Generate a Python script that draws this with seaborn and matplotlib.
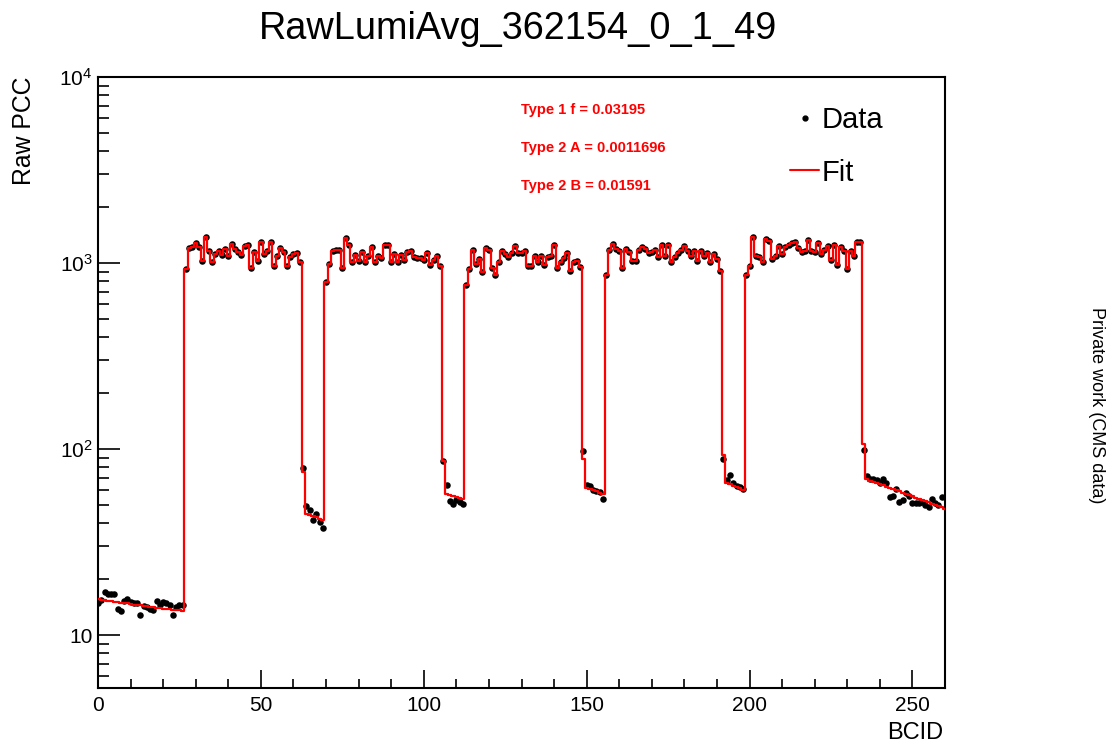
import numpy as np
import pandas as pd
import matplotlib
matplotlib.use("Agg")
import matplotlib.pyplot as plt
import seaborn as sns
from matplotlib.lines import Line2D
from matplotlib.ticker import FixedLocator, NullFormatter, MultipleLocator, FixedFormatter

# ---------------- data ----------------
# Raw PCC per BCID
baseline_data = [14.8, 15.5, 17.1, 16.6, 16.6, 16.6, 13.9, 13.5, 15.3, 15.6, 15.1, 14.9, 14.9,
                 12.8, 14.3, 14.2, 13.9, 13.7, 15.3, 14.6, 15.1, 14.8, 14.6, 12.8, 14.2, 14.5, 14.5]  # BCID 0-26
train1_data = [928, 1199, 1214, 1281, 1214, 1029, 1374, 1165, 1008, 1118, 1165, 1104, 1189, 1095,
               1265, 1189, 1141, 1104, 1239, 1250, 936, 1141, 1029, 1291, 1118, 1165, 1302, 968,
               1095, 1199, 1141, 968, 1073, 1118, 1130, 1017]  # BCID 27-62
gap1_data = [79.5, 49.5, 47.2, 41.7, 44.8, 40.7, 37.5]  # BCID 63-69
train2_data = [794, 988, 1165, 1180, 1180, 936, 1363, 1255, 1017, 1104, 1029, 1141, 1008, 1095,
               1214, 1017, 1095, 1059, 1255, 1255, 1017, 1118, 1008, 1104, 1042, 1141, 1165, 1081,
               1059, 1059, 1042, 1127, 975, 1042, 1095, 968]  # BCID 70-105
gap2_data = [86.0, 64.0, 52.7, 50.6, 53.3, 52.1, 50.6]  # BCID 106-112
train3_data = [761, 928, 1180, 988, 1051, 891, 1199, 1180, 936, 862, 1008, 1155, 1118, 1073,
               1132, 1229, 1132, 1132, 1165, 968, 968, 1086, 1008, 1086, 975, 1073, 1086, 1250,
               936, 1008, 1059, 1132, 909, 1017, 1029, 956]  # BCID 113-148
gap3_data = [97.5, 64.0, 63.0, 60.0, 59.7, 58.5, 53.8]  # BCID 149-155
train4_data = [862, 1180, 1265, 1189, 1165, 936, 1189, 1141, 1029, 1029, 1180, 1214, 1189, 1132,
               1141, 1180, 1073, 1250, 1086, 1250, 1017, 1073, 1132, 1180, 1229, 1165, 1086, 1165,
               1029, 1165, 1086, 1132, 1008, 1118, 1051, 909]  # BCID 156-191
gap4_data = [89.0, 68.0, 72.5, 65.7, 63.5, 62.5, 61.0]  # BCID 192-198
train5_data = [862, 968, 1374, 1086, 1073, 1008, 1346, 1318, 1051, 1095, 1229, 1118, 1214, 1250,
               1281, 1291, 1199, 1151, 1165, 1335, 1165, 1141, 1281, 1118, 1180, 1229, 1042, 1250,
               975, 1214, 1165, 928, 1165, 1095, 1291, 1291]  # BCID 199-234
tail_data = [98.8, 71.6, 69.5, 68.7, 68.1, 65.4, 68.7, 65.9, 55.0, 55.9, 60.7, 52.1, 53.2, 57.8,
             55.9, 51.1, 51.1, 51.6, 52.1, 50.0, 48.6, 53.8, 51.6, 50.0, 55.5]  # BCID 235-259

# Fit outside the trains (inside trains the fit follows the data)
baseline_fit = [15.6, 15.5, 15.4, 15.3, 15.2, 15.1, 15.0, 14.95, 14.9, 14.8, 14.7, 14.6, 14.5,
                14.45, 14.4, 14.3, 14.2, 14.1, 14.05, 14.0, 13.9, 13.85, 13.8, 13.7, 13.65, 13.6, 13.5]
gap1_fit = [75.5, 44.7, 44.1, 43.5, 42.9, 42.3, 41.7]
gap2_fit = [86.5, 57.6, 56.8, 56.0, 55.2, 54.4, 53.7]
gap3_fit = [89.0, 62.1, 61.1, 60.1, 59.2, 58.2, 57.3]
gap4_fit = [92.7, 65.7, 64.6, 63.6, 62.6, 61.6, 60.6]
tail_fit = [106.0, 68.7, 67.7, 66.7, 65.7, 64.7, 63.8, 62.8, 61.9, 61.0, 60.1, 59.2, 58.3, 57.4,
            56.6, 55.7, 54.9, 54.1, 53.3, 52.5, 51.7, 50.9, 50.1, 49.4, 48.6, 47.9]  # BCID 235-260

fit_labels = ["Type 1 f = 0.03195", "Type 2 A = 0.0011696", "Type 2 B = 0.01591"]
x_ticks = [0, 50, 100, 150, 200, 250]
y_ticks = [10, 100, 1000, 10000]
y_tick_labels = ["10", r"$10^{2}$", r"$10^{3}$", r"$10^{4}$"]

pcc = (baseline_data + train1_data + gap1_data + train2_data + gap2_data + train3_data
       + gap3_data + train4_data + gap4_data + train5_data + tail_data)
fit = (baseline_fit + train1_data + gap1_fit + train2_data + gap2_fit + train3_data
       + gap3_fit + train4_data + gap4_fit + train5_data + tail_fit)

df = pd.DataFrame({"BCID": np.arange(len(pcc)), "PCC": pcc})
df_fit = pd.DataFrame({"BCID": np.arange(len(fit)), "Fit": fit})

# ---------------- style ----------------
sns.set_theme(style="white")
plt.rcParams["font.family"] = ["Liberation Sans", "DejaVu Sans"]
plt.rcParams["mathtext.fontset"] = "custom"
plt.rcParams["mathtext.rm"] = "Liberation Sans"
plt.rcParams["mathtext.it"] = "Liberation Sans:italic"
plt.rcParams["mathtext.bf"] = "Liberation Sans:bold"
plt.rcParams["text.color"] = "black"
plt.rcParams["axes.labelcolor"] = "black"
plt.rcParams["xtick.color"] = "black"
plt.rcParams["ytick.color"] = "black"

fig = plt.figure(figsize=(11.18, 7.46), dpi=100)
ax = fig.add_axes([98 / 1118, 1 - 688 / 746, (945 - 98) / 1118, (688 - 77) / 746])

sns.scatterplot(data=df, x="BCID", y="PCC", color="black", s=22, linewidth=0,
                ax=ax, zorder=2, legend=False)
sns.lineplot(data=df_fit, x="BCID", y="Fit", color="red", lw=1.6, drawstyle="steps-mid",
             estimator=None, ax=ax, zorder=3, legend=False)

ax.set_yscale("log")
ax.set_xlim(0, 260)
ax.set_ylim(5.2, 10000)

ax.xaxis.set_major_locator(FixedLocator(x_ticks))
ax.xaxis.set_minor_locator(MultipleLocator(10))
ax.yaxis.set_major_locator(FixedLocator(y_ticks))
ax.yaxis.set_major_formatter(FixedFormatter(y_tick_labels))
minor_y = [m * 10 ** e for e in range(0, 4) for m in range(2, 10) if 5.2 <= m * 10 ** e <= 10000]
ax.yaxis.set_minor_locator(FixedLocator(minor_y))
ax.yaxis.set_minor_formatter(NullFormatter())

ax.tick_params(axis="x", which="major", direction="in", length=13, width=1.2,
               labelsize=15, pad=6, top=False, bottom=True, colors="black")
ax.tick_params(axis="x", which="minor", direction="in", length=6.5, width=1.2,
               top=False, bottom=True)
ax.tick_params(axis="y", which="major", direction="in", length=16, width=1.2,
               labelsize=15, pad=4, left=True, right=False, colors="black")
ax.tick_params(axis="y", which="minor", direction="in", length=8, width=1.2,
               left=True, right=False)
for sp in ax.spines.values():
    sp.set_visible(True)
    sp.set_color("black")
    sp.set_linewidth(1.5)

ax.set_xlabel("")
ax.set_ylabel("")

fig.text(518 / 1118, 1 - 29 / 746, "RawLumiAvg_362154_0_1_49", ha="center", va="center",
         fontsize=27.3, color="black")
fig.text(24 / 1118, 1 - 77 / 746, "Raw PCC", rotation=90, ha="center", va="top", fontsize=17.8)
fig.text(943 / 1118, 1 - 733 / 746, "BCID", ha="right", va="center", fontsize=17)
fig.text(1097 / 1118, 1 - 405 / 746, "Private work (CMS data)", rotation=270,
         ha="center", va="center", fontsize=13)

for lbl, ypx in zip(fit_labels, [110, 148, 186]):
    ax.text((521 - 98) / 847, (688 - ypx) / 611, lbl, transform=ax.transAxes, color="red",
            fontsize=10.5, fontweight="bold", ha="left", va="center")

handles = [Line2D([], [], marker="o", ls="none", color="black", markersize=3.5),
           Line2D([], [], color="red", lw=1.5)]
ax.legend(handles, ["Data", "Fit"], loc="upper left", bbox_to_anchor=(0.817, 0.953),
          frameon=False, fontsize=21, handlelength=1.0, handletextpad=0.1,
          labelspacing=0.85, borderaxespad=0, borderpad=0)

fig.savefig("out.png", dpi=100)
